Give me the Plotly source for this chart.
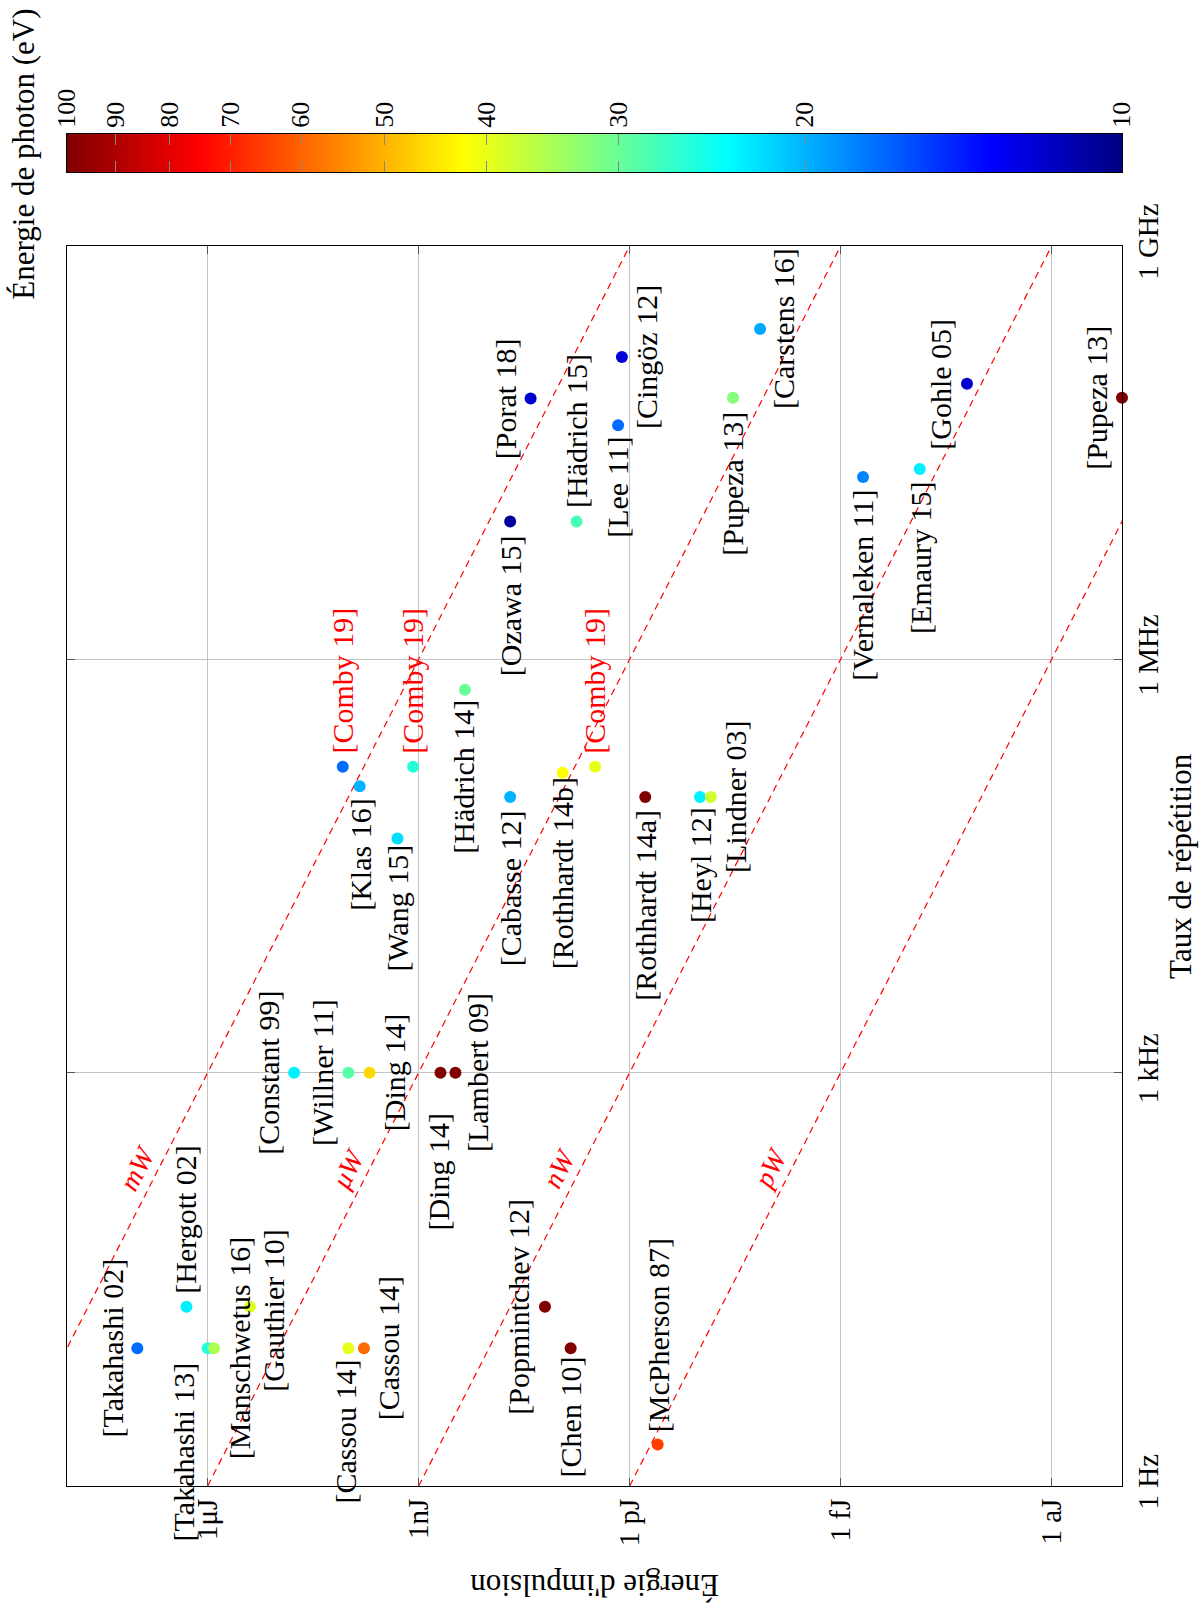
import numpy as np
import plotly.graph_objects as go

# ---------------- data ----------------
refs = ["[Takahashi 02]", "[Hergott 02]", "[Takahashi 13]", "[Manschwetus 16]", "[Gauthier 10]",
        "[Cassou 14]", "[Cassou 14]", "[Popmintchev 12]", "[Chen 10]", "[McPherson 87]",
        "[Comby 19]", "[Klas 16]", "[Comby 19]", "[Wang 15]", "[Hädrich 14]", "[Cabasse 12]",
        "[Rothhardt 14b]", "[Comby 19]", "[Rothhardt 14a]", "[Heyl 12]", "[Lindner 03]",
        "[Constant 99]", "[Willner 11]", "[Ding 14]", "[Ding 14]", "[Lambert 09]",
        "[Porat 18]", "[Ozawa 15]", "[Hädrich 15]", "[Lee 11]", "[Cingöz 12]", "[Pupeza 13]",
        "[Carstens 16]", "[Vernaleken 11]", "[Emaury 15]", "[Gohle 05]", "[Pupeza 13]"]

pulse_energy_J = [10e-6, 2e-6, 1e-6, 0.81e-6, 0.25e-6,
                  10e-9, 6e-9, 16e-12, 6.9e-12, 0.4e-12,
                  12e-9, 6.9e-9, 1.2e-9, 2e-9, 0.22e-9, 50e-12,
                  9e-12, 3.1e-12, 0.6e-12, 0.1e-12, 70e-15,
                  59e-9, 10e-9, 5e-9, 0.49e-9, 0.3e-9,
                  25.6e-12, 50e-12, 5.7e-12, 1.46e-12, 1.29e-12, 34e-15,
                  14e-15, 0.48e-15, 75e-18, 16e-18, 0.1e-18]

rep_rate_Hz = [10, 20, 10, 10, 20,
               10, 10, 20, 10, 2,
               166e3, 120e3, 166e3, 50e3, 600e3, 100e3,
               150e3, 166e3, 100e3, 100e3, 100e3,
               1e3, 1e3, 1e3, 1e3, 1e3,
               78e6, 10e6, 10e6, 50e6, 156e6, 79e6,
               250e6, 21e6, 24e6, 100e6, 79e6]

photon_eV = [17, 23, 26, 35, 39,
             40, 59, 100, 100, 65,
             17, 20, 26, 22, 30, 20,
             42, 40, 100, 23, 38,
             23, 29, 46, 100, 100,
             12, 10.7, 28, 17, 12.3, 32,
             19.5, 18, 23, 11.9, 100]

highlighted = ["[Comby 19]"]

power_W = [1e-3, 1e-6, 1e-9, 1e-12]
power_labels = ["mW", "μW", "nW", "pW"]
power_label_rate_Hz = 200

rate_ticks = [1, 1e3, 1e6, 1e9]
rate_ticktext = ["1 Hz", "1 kHz", "1 MHz", "1 GHz"]
energy_ticks = [1e-6, 1e-9, 1e-12, 1e-15, 1e-18]
energy_ticktext = ["1μJ", "1nJ", "1 pJ", "1 fJ", "1 aJ"]
cbar_ticks_eV = [100, 90, 80, 70, 60, 50, 40, 30, 20, 10]

# ---------------- label placement (pixels) ----------------
# (horizontal shift of label centre, mode, value)
# mode 'c': centred vertically (value = downward shift); 'u': above point (gap); 'd': below point (gap)
label_place = [(-25, 'c', 0), (-1, 'u', 11), (-24, 'd', 12), (25, 'c', 0), (24, 'c', 4),
               (-3, 'd', 9), (24, 'c', 0), (-26, 'c', 0), (0, 'd', 6), (1, 'u', 10),
               (0, 'u', 11), (0, 'd', 11), (0, 'u', 11), (0, 'd', 4), (-1, 'd', 8), (0, 'd', 11),
               (0, 'd', 3), (0, 'u', 11), (0, 'd', 11), (0, 'd', 8), (24, 'c', 0),
               (-25, 'c', 0), (-26, 'c', 0), (25, 'c', 0), (-2, 'd', 39), (22, 'c', 0),
               (-25, 'c', 0), (0, 'd', 12), (0, 'u', 11), (0, 'd', 10), (24, 'c', 0), (0, 'd', 12),
               (24, 'c', 0), (0, 'd', 11), (0, 'd', 11), (-26, 'c', 0), (-25, 'c', 0)]

FONT = "Liberation Serif"

jet_rev = [[0.0, "rgb(128,0,0)"], [0.125, "rgb(255,0,0)"], [0.375, "rgb(255,255,0)"],
           [0.625, "rgb(0,255,255)"], [0.875, "rgb(0,0,255)"], [1.0, "rgb(0,0,128)"]]

cval = (-np.log10(np.array(photon_eV, dtype=float))).tolist()
cmin, cmax = -np.log10(max(cbar_ticks_eV)), -np.log10(min(cbar_ticks_eV))

fig = go.Figure()

# power lines
for P in power_W:
    fig.add_trace(go.Scatter(
        x=[P / rate_ticks[0], P / rate_ticks[-1]], y=[rate_ticks[0], rate_ticks[-1]],
        mode="lines", line=dict(color="red", width=1.2, dash="7px,5px"),
        hoverinfo="skip", showlegend=False))

# data points
fig.add_trace(go.Scatter(
    x=pulse_energy_J, y=rep_rate_Hz, mode="markers", cliponaxis=False,
    marker=dict(size=12, color=cval, cmin=cmin, cmax=cmax, colorscale=jet_rev,
                showscale=False, line=dict(width=0)),
    showlegend=False))

# colour bar as heatmap with smooth interpolation between its two end values
fig.add_trace(go.Heatmap(
    z=[[cmin, cmax]], x=[cmin, cmax], y=[0.5], zmin=cmin, zmax=cmax,
    colorscale=jet_rev, zsmooth="best", showscale=False, hoverinfo="skip",
    xaxis="x2", yaxis="y2"))

annotations = []
for ref, E, f, (dx, mode, v) in zip(refs, pulse_energy_J, rep_rate_Hz, label_place):
    col = "red" if ref in highlighted else "black"
    a = dict(x=np.log10(E), y=np.log10(f), xref="x", yref="y", text=ref,
             showarrow=False, textangle=-90, xanchor="center", xshift=dx,
             font=dict(family=FONT, size=30, color=col))
    if mode == 'c':
        a.update(yanchor="middle", yshift=-v)
    elif mode == 'u':
        a.update(yanchor="bottom", yshift=v)
    else:
        a.update(yanchor="top", yshift=-v)
    annotations.append(a)

for P, lab in zip(power_W, power_labels):
    annotations.append(dict(
        x=np.log10(P / power_label_rate_Hz), y=np.log10(power_label_rate_Hz),
        xref="x", yref="y", text="<i>" + lab + "</i>", showarrow=False,
        textangle=-63, xanchor="center", yanchor="middle", xshift=-21,
        font=dict(family=FONT, size=28, color="red")))

annotations += [
    dict(x=1.0555, y=0.417, xref="paper", yref="paper", text="Taux de répétition",
         showarrow=False, textangle=-90, xanchor="center", yanchor="middle",
         font=dict(family=FONT, size=31, color="black")),
    dict(x=0.5005, y=-0.067, xref="paper", yref="paper", text="Énergie d'impulsion",
         showarrow=False, textangle=180, xanchor="center", yanchor="middle",
         font=dict(family=FONT, size=31, color="black")),
    dict(x=-0.041, y=0.8964, xref="paper", yref="paper", text="Énergie de photon (eV)",
         showarrow=False, textangle=-90, xanchor="center", yanchor="middle",
         font=dict(family=FONT, size=31, color="black")),
]

tickfont = dict(family=FONT, size=29, color="black")

fig.update_layout(
    template="none",
    width=1203, height=1610,
    margin=dict(l=67, r=81, t=0, b=124, pad=0, autoexpand=False),
    paper_bgcolor="white", plot_bgcolor="white",
    showlegend=False,
    annotations=annotations,
    xaxis=dict(type="log", range=[-4, -19], domain=[0, 1], anchor="y", automargin=False,
               tickvals=energy_ticks, ticktext=energy_ticktext, tickangle=-90,
               tickfont=tickfont, showgrid=True, gridcolor="#c4c4c4", gridwidth=1,
               ticks="inside", ticklen=8, tickcolor="#555", mirror="ticks",
               showline=True, linecolor="black", linewidth=1.2, zeroline=False),
    yaxis=dict(type="log", range=[0, 9], domain=[0, 0.8345], anchor="x", side="right",
               automargin=False,
               tickvals=rate_ticks, ticktext=rate_ticktext, tickangle=-90,
               tickfont=tickfont, showgrid=True, gridcolor="#c4c4c4", gridwidth=1,
               ticks="inside", ticklen=8, tickcolor="#555", mirror="ticks",
               showline=True, linecolor="black", linewidth=1.2, zeroline=False),
    xaxis2=dict(domain=[0, 1], anchor="y2", range=[cmin, cmax], side="top", automargin=False,
                tickvals=(-np.log10(np.array(cbar_ticks_eV, dtype=float))).tolist(),
                ticktext=[str(t) for t in cbar_ticks_eV], tickangle=-90,
                tickfont=dict(family=FONT, size=26, color="black"),
                ticks="inside", ticklen=11, tickcolor="#888", mirror="ticks",
                showline=True, linecolor="black", linewidth=1.2,
                showgrid=False, zeroline=False),
    yaxis2=dict(domain=[0.8842, 0.9098], anchor="x2", range=[0, 1], automargin=False,
                showticklabels=False, ticks="", showgrid=False, zeroline=False,
                showline=True, linecolor="black", linewidth=1.2, mirror=True),
)

fig.write_html("out.html", config={"displayModeBar": False},
               post_script="document.body.style.margin='0px';")
